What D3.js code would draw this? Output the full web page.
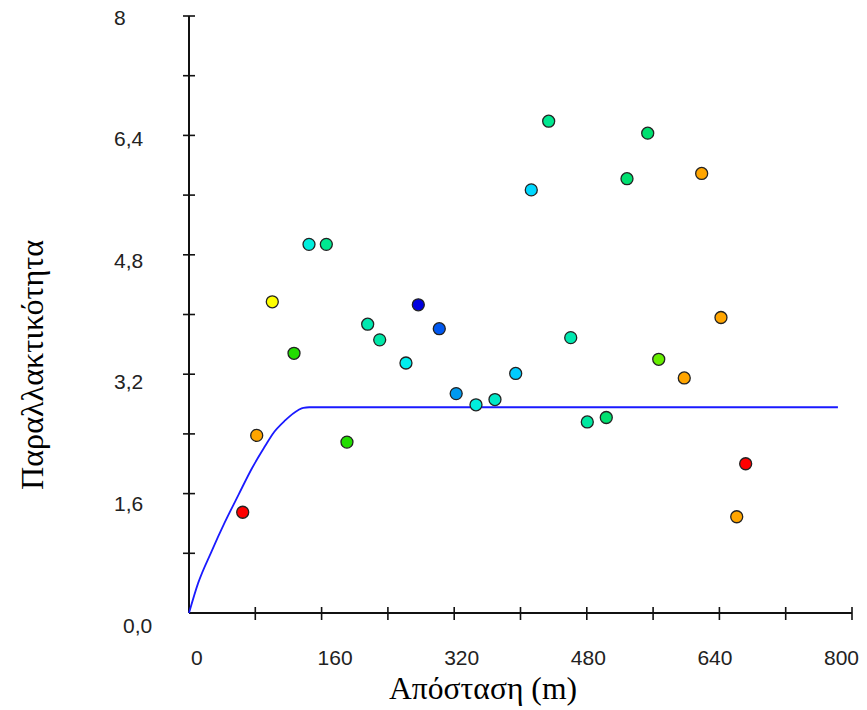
<!DOCTYPE html>
<html>
<head>
<meta charset="utf-8">
<script src="https://cdn.jsdelivr.net/npm/d3@7"></script>
<style>
  html, body { margin: 0; padding: 0; background: #fff; }
  svg { display: block; }
</style>
</head>
<body>
<svg id="chart" width="867" height="710"></svg>
<script>
// ---- data ----
const distances = [64.8, 81.7, 100.5, 126.7, 144.8, 165.7, 190.6, 215.6, 230.1, 261.8,
                   276.7, 302.0, 322.4, 346.3, 369.2, 394.2, 413.0, 434.0, 460.6, 480.6,
                   503.5, 528.5, 553.5, 566.8, 597.6, 618.6, 641.9, 660.9, 671.7];
const semivariance = [1.35, 2.38, 4.17, 3.48, 4.94, 4.94, 2.29, 3.87, 3.66, 3.35,
                      4.13, 3.81, 2.94, 2.79, 2.86, 3.21, 5.67, 6.59, 3.69, 2.56,
                      2.62, 5.82, 6.43, 3.40, 3.15, 5.89, 3.96, 1.29, 2.00];
const pointColors = ["#ff0000", "#ffa500", "#ffff00", "#22dd00", "#00eedd", "#00e890", "#22dd00", "#00e8b0", "#00e8a8", "#00eeee",
                     "#0000e0", "#0058f0", "#0099ee", "#00eedd", "#00e8c8", "#00ccff", "#00d8ff", "#00e890", "#00e8b0", "#00e8a0",
                     "#00e070", "#00e070", "#00e070", "#66ee00", "#ffa500", "#ffa500", "#ffa500", "#ffa500", "#ff0000"];
const modelLag   = [0, 11, 27, 43, 60, 76, 92, 101, 116, 132, 138, 145, 783];
const modelValue = [0, 0.40, 0.82, 1.21, 1.59, 1.94, 2.24, 2.40, 2.58, 2.72, 2.75, 2.757, 2.757];
const xTickValues = [80, 160, 240, 320, 400, 480, 560, 640, 720, 800];
const yTickValues = [0.8, 1.6, 2.4, 3.2, 4.0, 4.8, 5.6, 6.4, 7.2, 8.0];
const xLabelValues = [0, 160, 320, 480, 640, 800];
const xLabelTexts  = ["0", "160", "320", "480", "640", "800"];
const yLabelValues = [0, 1.6, 3.2, 4.8, 6.4, 8];
const yLabelTexts  = ["0,0", "1,6", "3,2", "4,8", "6,4", "8"];
const xTitle = "Απόσταση (m)";
const yTitle = "Παραλλακτικότητα";

// ---- drawing ----
const svg = d3.select("#chart");
const x = d3.scaleLinear([0, 800], [189, 852]);
const y = d3.scaleLinear([0, 8], [613, 16]);
const xLab = d3.scaleLinear([0, 800], [191, 824]);
const yLab = d3.scaleLinear([0, 8], [625, 17]);
const tickFont = "'Liberation Sans Narrow', 'Arial Narrow', 'Liberation Sans', sans-serif";

// ticks
svg.append("g").selectAll("line").data(xTickValues).join("line")
  .attr("x1", d => x(d)).attr("x2", d => x(d))
  .attr("y1", y(0) - 6).attr("y2", y(0) + 7)
  .attr("stroke", "#111").attr("stroke-width", 1.6);
svg.append("g").selectAll("line").data(yTickValues).join("line")
  .attr("y1", d => y(d)).attr("y2", d => y(d))
  .attr("x1", x(0) - 6).attr("x2", x(0) + 6)
  .attr("stroke", "#111").attr("stroke-width", 1.6);

// axis lines
svg.append("line").attr("x1", x(0)).attr("x2", x(0)).attr("y1", y(0)).attr("y2", y(8))
  .attr("stroke", "#111").attr("stroke-width", 2);
svg.append("line").attr("x1", x(0)).attr("x2", x(800)).attr("y1", y(0)).attr("y2", y(0))
  .attr("stroke", "#111").attr("stroke-width", 2);

// tick labels
svg.append("g").selectAll("text").data(xLabelValues).join("text")
  .attr("x", d => xLab(d)).attr("y", 657).attr("dy", "0.36em")
  .attr("font-family", tickFont).attr("font-size", 21)
  .attr("fill", "#222")
  .text((d, i) => xLabelTexts[i]);
svg.append("g").selectAll("text").data(yLabelValues).join("text")
  .attr("x", d => d === 0 ? 123 : 114).attr("y", d => yLab(d)).attr("dy", "0.36em")
  .attr("font-family", tickFont).attr("font-size", 21)
  .attr("fill", "#222")
  .text((d, i) => yLabelTexts[i]);

// model line
const lineData = modelLag.map((h, i) => [h, modelValue[i]]);
svg.append("path").datum(lineData)
  .attr("d", d3.line().x(d => x(d[0])).y(d => y(d[1])).curve(d3.curveMonotoneX))
  .attr("fill", "none").attr("stroke", "#1a1aff").attr("stroke-width", 1.8);

// points
svg.append("g").selectAll("circle").data(distances).join("circle")
  .attr("cx", d => x(d)).attr("cy", (d, i) => y(semivariance[i]))
  .attr("r", 6)
  .attr("fill", (d, i) => pointColors[i])
  .attr("stroke", "#222").attr("stroke-width", 1.3);

// titles
svg.append("text").attr("x", 483).attr("y", 699).attr("text-anchor", "middle")
  .attr("font-family", "'Liberation Serif', 'Times New Roman', serif").attr("font-size", 31)
  .attr("textLength", 188).attr("lengthAdjust", "spacingAndGlyphs")
  .attr("fill", "#000").text(xTitle);
svg.append("text").attr("transform", "translate(43,365) rotate(-90)").attr("text-anchor", "middle")
  .attr("font-family", "'Liberation Serif', 'Times New Roman', serif").attr("font-size", 31)
  .attr("textLength", 250).attr("lengthAdjust", "spacingAndGlyphs")
  .attr("fill", "#000").text(yTitle);
</script>
</body>
</html>
